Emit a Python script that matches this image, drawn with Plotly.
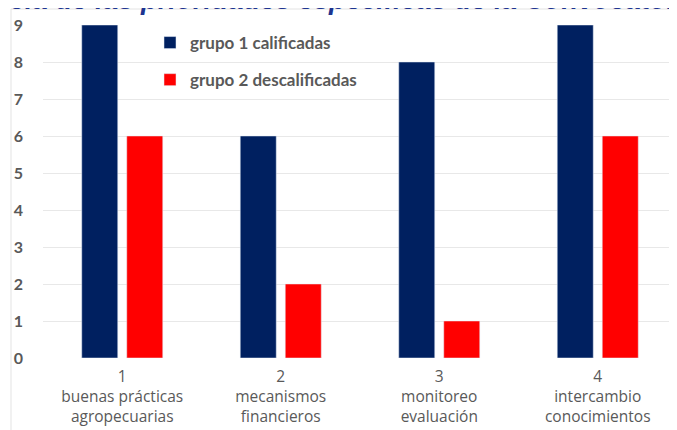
import plotly.graph_objects as go

categories = ["1<br>buenas prácticas<br>agropecuarias",
              "2<br>mecanismos<br>financieros",
              "3<br>monitoreo<br>evaluación",
              "4<br>intercambio<br>conocimientos"]
grupo1 = [9, 6, 8, 9]
grupo2 = [6, 2, 1, 6]
title_text = "Importancia de las prioridades específicas de la Convocatoria"

# the page body adds an 8px offset; positions below are in window pixels
OFF = 8
W, H = 677 - OFF, 430 - OFF
L, R, T, B = 43 - OFF, 0, 25 - OFF, 72
pw, ph = W - L - R, H - T - B

def px_x(x):
    return (x - OFF - L) / pw

def px_y(y):
    return 1 - (y - OFF - T) / ph

fig = go.Figure()
fig.add_trace(go.Bar(x=categories, y=grupo1, name="<b>grupo 1 calificadas</b>",
                     marker_color="#002060", legendgroup="a"))
fig.add_trace(go.Bar(x=categories, y=grupo2, name="<b>grupo 2 descalificadas</b>",
                     marker_color="#FF0000", legendgroup="b"))

fig.update_layout(
    width=W, height=H,
    margin=dict(l=L, r=R, t=T, b=B),
    paper_bgcolor="white", plot_bgcolor="white",
    barmode="group", bargap=0.432, bargroupgap=0.2,
    font=dict(family="Open Sans", color="#595959"),
    legend=dict(x=px_x(150), y=px_y(25), xanchor="left", yanchor="top",
                font=dict(size=17, color="#595959", family="Lato"),
                traceorder="grouped", tracegroupgap=12,
                bgcolor="rgba(0,0,0,0)", itemwidth=30),
    xaxis=dict(showgrid=False, showline=False, ticks="",
               tickfont=dict(size=15.5, color="#595959", family="Open Sans"),
               ticklabelstandoff=7),
    yaxis=dict(range=[0, 9], dtick=1, showgrid=True, gridcolor="#e8e8e8",
               gridwidth=1, zeroline=False, showline=False,
               tickfont=dict(size=16, color="#595959", family="Lato"),
               tickprefix="<b>", ticksuffix="</b>", ticklabelstandoff=19),
)

fig.add_annotation(text="<b><i>" + title_text + "</i></b>",
                   xref="paper", yref="paper", x=px_x(702), y=px_y(17.5),
                   xanchor="right", yanchor="bottom", showarrow=False,
                   font=dict(size=27.5, color="#1c3490", family="Liberation Sans"))

fig.add_shape(type="rect", xref="paper", yref="paper",
              x0=px_x(11), x1=px_x(700), y0=px_y(440), y1=px_y(9),
              line=dict(color="#e3e3e3", width=1), layer="below")

fig.write_html("out.html")
